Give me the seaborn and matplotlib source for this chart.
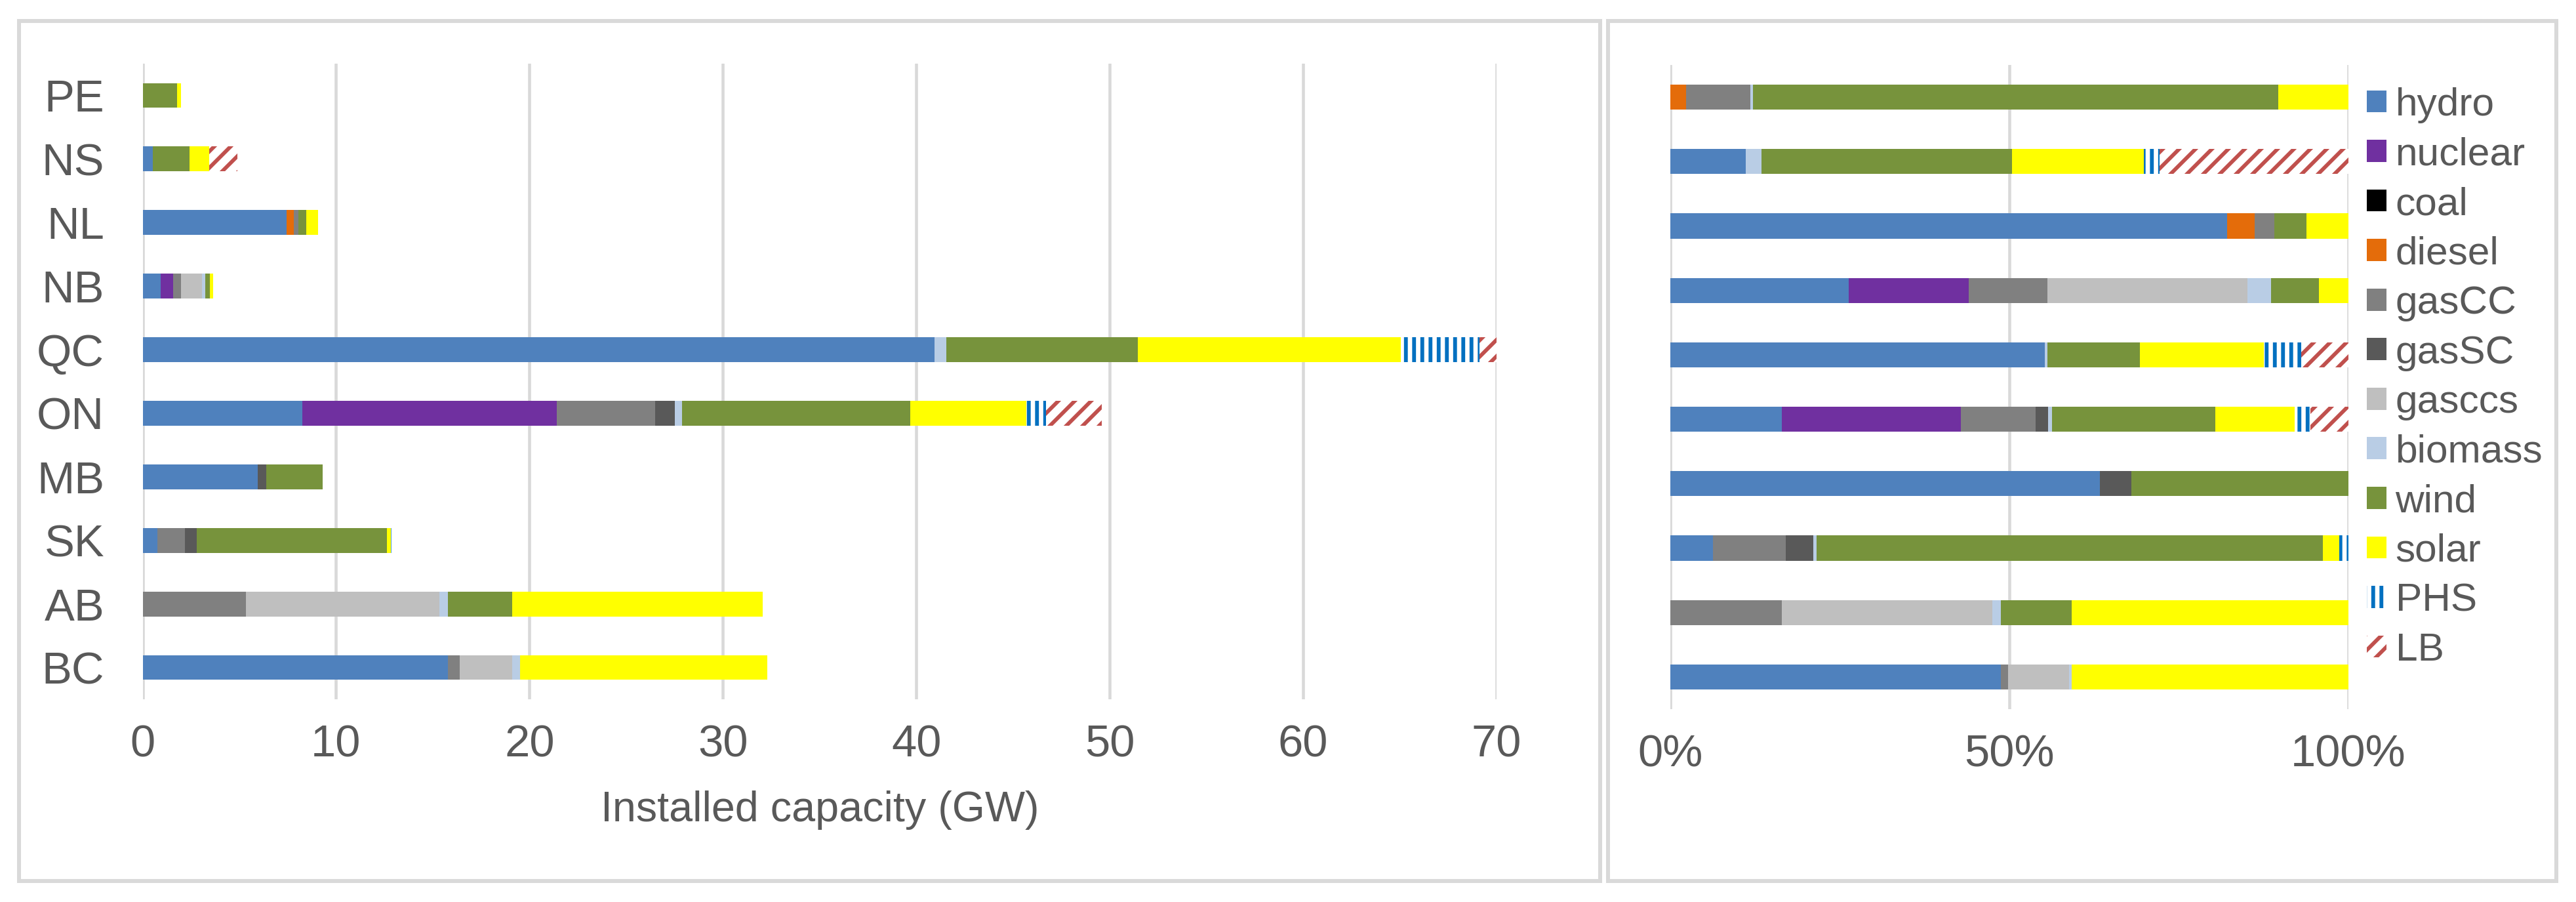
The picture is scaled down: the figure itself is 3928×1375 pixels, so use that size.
import numpy as np
import pandas as pd
import seaborn as sns
import matplotlib.pyplot as plt
from matplotlib.patches import Patch, Rectangle

provinces = ['PE', 'NS', 'NL', 'NB', 'QC', 'ON', 'MB', 'SK', 'AB', 'BC']
techs = ['hydro', 'nuclear', 'coal', 'diesel', 'gasCC', 'gasSC', 'gasccs',
         'biomass', 'wind', 'solar', 'PHS', 'LB']
tech_colors = ['#4F81BD', '#7030A0', '#000000', '#E46C0A', '#808080', '#595959',
               '#BFBFBF', '#B9CDE5', '#77933C', '#FFFF00', '#0070C0', '#C0504D']
tech_hatch = [None] * 10 + ['||', '//']

# installed capacity (GW), province order as above
hydro_gw = [0, 0.53, 7.43, 0.94, 40.93, 8.25, 5.96, 0.75, 0, 15.77]
nuclear_gw = [0, 0, 0, 0.62, 0, 13.15, 0, 0, 0, 0]
coal_gw = [0, 0, 0, 0, 0, 0, 0, 0, 0, 0]
diesel_gw = [0, 0, 0.40, 0, 0, 0, 0, 0, 0, 0]
gascc_gw = [0, 0, 0.22, 0.44, 0, 5.10, 0, 1.44, 5.33, 0.63]
gassc_gw = [0, 0, 0, 0, 0, 1.00, 0.42, 0.62, 0, 0]
gasccs_gw = [0, 0, 0, 1.07, 0, 0, 0, 0, 10.02, 2.72]
biomass_gw = [0, 0, 0, 0.18, 0.61, 0.40, 0, 0, 0.42, 0.38]
wind_gw = [1.78, 1.88, 0.41, 0.21, 9.90, 11.80, 2.92, 9.82, 3.35, 0]
solar_gw = [0.22, 1.03, 0.62, 0.18, 13.62, 6.00, 0, 0.22, 12.95, 12.80]
phs_gw = [0, 0, 0, 0, 4.06, 1.00, 0, 0.20, 0, 0]
lb_gw = [0, 1.47, 0, 0, 1.08, 2.90, 0, 0, 0, 0]

# shares (%)
hydro_pct = [0, 11.1, 82.1, 26.3, 55.2, 16.4, 63.3, 6.3, 0, 48.7]
nuclear_pct = [0, 0, 0, 17.7, 0, 26.4, 0, 0, 0, 0]
coal_pct = [0, 0, 0, 0, 0, 0, 0, 0, 0, 0]
diesel_pct = [2.3, 0, 4.1, 0, 0, 0, 0, 0, 0, 0]
gascc_pct = [9.5, 0, 2.9, 11.6, 0, 11.1, 0, 10.7, 16.4, 1.1]
gassc_pct = [0, 0, 0, 0, 0, 1.8, 4.7, 4.1, 0, 0]
gasccs_pct = [0, 0, 0, 29.5, 0, 0, 0, 0, 31.1, 9.0]
biomass_pct = [0.4, 2.3, 0, 3.5, 0.4, 0.6, 0, 0.5, 1.2, 0.4]
wind_pct = [77.5, 37.0, 4.7, 7.0, 13.6, 24.1, 32.0, 74.6, 10.5, 0]
solar_pct = [10.3, 19.4, 6.2, 4.4, 18.3, 11.7, 0, 2.4, 40.8, 40.8]
phs_pct = [0, 2.3, 0, 0, 5.5, 2.3, 0, 1.4, 0, 0]
lb_pct = [0, 27.9, 0, 0, 7.0, 5.6, 0, 0, 0, 0]

cap = pd.DataFrame(dict(zip(techs, [hydro_gw, nuclear_gw, coal_gw, diesel_gw, gascc_gw,
                                    gassc_gw, gasccs_gw, biomass_gw, wind_gw, solar_gw,
                                    phs_gw, lb_gw])), index=provinces)
share = pd.DataFrame(dict(zip(techs, [hydro_pct, nuclear_pct, coal_pct, diesel_pct, gascc_pct,
                                      gassc_pct, gasccs_pct, biomass_pct, wind_pct, solar_pct,
                                      phs_pct, lb_pct])), index=provinces)

sns.set_style('white')
plt.rcParams['font.family'] = ['Liberation Sans', 'DejaVu Sans']
plt.rcParams['hatch.linewidth'] = 2.8
text_col = '#595959'
grid_col = '#D9D9D9'

W, H, DPI = 3928, 1375, 150
fig = plt.figure(figsize=(W / DPI, H / DPI), dpi=DPI)


def stacked(ax, table):
    cum = table.cumsum(axis=1)
    # draw from the outermost segment inwards so each bar covers the previous
    for i in reversed(range(len(techs))):
        tech = techs[i]
        sns.barplot(x=cum[tech].values, y=provinces, orient='h', color=tech_colors[i],
                    saturation=1, width=0.39, errorbar=None, ax=ax)
        for patch, val in zip(ax.containers[-1], table[tech].values):
            patch.set_linewidth(0)
            if tech_hatch[i]:
                patch.set_facecolor('white')
                patch.set_edgecolor(tech_colors[i])
                patch.set_hatch(tech_hatch[i])
            else:
                patch.set_facecolor(tech_colors[i])
            if val == 0:
                patch.set_visible(False)
    ax.set_ylim(9.5, -0.5)
    ax.grid(axis='x', color=grid_col, linewidth=2.2)
    ax.set_axisbelow(True)
    sns.despine(ax=ax, left=True, bottom=True)
    ax.tick_params(length=0, labelsize=33, labelcolor=text_col)
    ax.tick_params(axis='x', pad=18)
    ax.tick_params(axis='y', pad=28)
    ax.set_ylabel('')


ax1 = fig.add_axes([217.5 / W, 1 - 1066 / H, (2282 - 217.5) / W, (1066 - 97) / H])
stacked(ax1, cap)
ax1.set_xlim(0, 70)
ax1.set_xticks(range(0, 71, 10))
ax1.set_xlabel('Installed capacity (GW)', fontsize=31, color=text_col, labelpad=18)

ax2 = fig.add_axes([2547 / W, 1 - 1081 / H, 1034 / W, (1081 - 99) / H])
stacked(ax2, share)
ax2.set_xlim(0, 100)
ax2.set_xticks([0, 50, 100])
ax2.set_xticklabels(['0%', '50%', '100%'])
ax2.set_yticklabels([])
ax2.set_xlabel('')

handles = [Patch(facecolor='white' if h else c, edgecolor=c if h else 'none',
                 hatch=h, linewidth=0, label=t)
           for t, c, h in zip(techs, tech_colors, tech_hatch)]
fig.legend(handles=handles, loc='upper left', bbox_to_anchor=(3609 / W, 1 - 133 / H),
           frameon=False, fontsize=29, labelcolor=text_col, borderpad=0,
           borderaxespad=0, handlelength=0.5, handleheight=0.48,
           handletextpad=0.22, labelspacing=0.34)

# panel frames
for x0, x1 in [(29, 2440), (2452, 3898)]:
    fig.add_artist(Rectangle((x0 / W, 1 - 1343 / H), (x1 - x0) / W, (1343 - 32) / H,
                             transform=fig.transFigure, fill=False,
                             edgecolor=grid_col, linewidth=2.9))

fig.savefig('out.png', dpi=DPI)
